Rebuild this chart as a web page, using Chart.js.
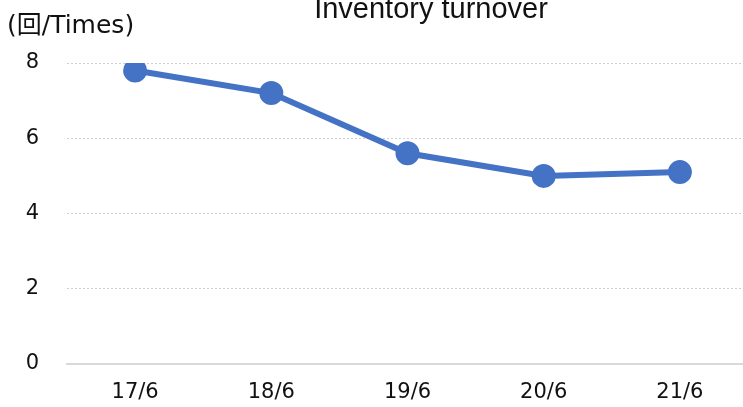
<!DOCTYPE html>
<html>
<head>
<meta charset="utf-8">
<script src="https://cdn.jsdelivr.net/npm/chart.js@4/dist/chart.umd.min.js"></script>
<style>
html,body{margin:0;padding:0;background:#fff;overflow:hidden;}
#wrap{position:relative;width:748px;height:407px;}
</style>
</head>
<body>
<div id="wrap"><canvas id="c" width="748" height="407"></canvas></div>
<script>
const categories = ["17/6", "18/6", "19/6", "20/6", "21/6"];
const turnover = [7.8, 7.2, 5.6, 5.0, 5.1];
const yTicks = [0, 2, 4, 6, 8];
const titleText = "Inventory turnover";
const unitText = "(回/Times)";

const textPlugin = {
  id: 'texts',
  afterDraw(chart) {
    const ctx = chart.ctx;
    ctx.save();
    ctx.fillStyle = '#111';
    ctx.textBaseline = 'alphabetic';
    ctx.font = '29px "Liberation Sans", Arial, sans-serif';
    ctx.textAlign = 'center';
    ctx.fillText(titleText, 431, 18);
    ctx.font = '25px "DejaVu Sans", "Noto Sans CJK JP", sans-serif';
    ctx.textAlign = 'left';
    ctx.fillText(unitText, 7, 33);
    ctx.restore();
  }
};

new Chart(document.getElementById('c'), {
  type: 'line',
  data: {
    labels: categories,
    datasets: [{
      data: turnover,
      borderColor: '#4472C4',
      backgroundColor: '#4472C4',
      borderWidth: 6,
      pointRadius: 9,
      pointHoverRadius: 9,
      pointBackgroundColor: '#4472C4',
      pointBorderColor: '#4472C4',
      tension: 0,
      fill: false
    }]
  },
  options: {
    responsive: false,
    animation: false,
    events: [],
    layout: { autoPadding: false, padding: { top: 63, right: 0, bottom: 0, left: 0 } },
    plugins: { legend: { display: false }, title: { display: false }, tooltip: { enabled: false } },
    scales: {
      x: {
        offset: true,
        grid: { display: false, drawTicks: false },
        border: { display: true, color: '#d9d9d9', width: 2 },
        ticks: { color: '#111', font: { family: '"DejaVu Sans", sans-serif', size: 21 }, padding: 16, maxRotation: 0 },
        afterFit(s) { s.height = 43; s.paddingLeft = 0; s.paddingRight = 0; }
      },
      y: {
        min: 0, max: 8,
        afterBuildTicks(s) { s.ticks = yTicks.map(v => ({ value: v })); },
        grid: { color: '#d0d0d0', lineWidth: 1, drawTicks: false },
        border: { display: false, dash: [2, 2] },
        ticks: { color: '#111', font: { family: '"DejaVu Sans", sans-serif', size: 21 }, padding: 28 },
        afterFit(s) { s.width = 67; }
      }
    }
  },
  plugins: [textPlugin]
});
</script>
</body>
</html>
